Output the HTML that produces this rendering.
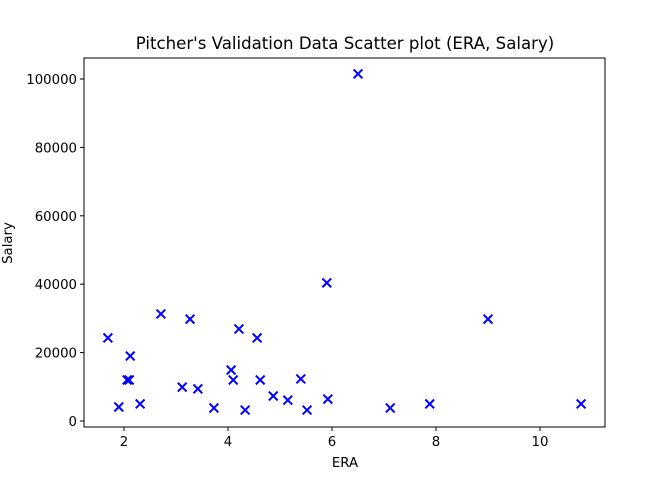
<!DOCTYPE html>
<html><head><meta charset="utf-8"><style>
body{margin:0;background:#fff;}
svg{display:block;font-family:"DejaVu Sans","Liberation Sans",sans-serif;}
</style></head><body>
<svg id="chart" width="672" height="480">
<rect x="84" y="58" width="521" height="369" fill="#fff" stroke="#000" stroke-width="1"/>
<text x="345" y="49" text-anchor="middle" font-size="16.6">Pitcher's Validation Data Scatter plot (ERA, Salary)</text>
<text x="345" y="467" text-anchor="middle" font-size="13.3">ERA</text>
<text x="12" y="243" text-anchor="middle" font-size="13.3" transform="rotate(-90 12 243)">Salary</text>
<g id="ticks"></g><g id="marks"></g>
</svg>
<script>
const eraValues=[1.69,1.90,2.06,2.10,2.12,2.31,2.71,3.12,3.27,3.42,3.73,4.06,4.10,4.21,4.33,4.56,4.62,4.87,5.15,5.40,5.52,5.90,5.92,6.50,7.12,7.88,9.00,10.79];
const salaryValues=[24300,4100,12000,12000,19000,5000,31300,9900,29800,9400,3800,14900,12000,26900,3200,24300,12000,7300,6100,12300,3200,40400,6400,101500,3800,5000,29800,5000];
const xTicks=[2,4,6,8,10];
const yTicks=[0,20000,40000,60000,80000,100000];
const xs=v=>20+v*52;
const ys=v=>421-v*0.00342;
const NS="http://www.w3.org/2000/svg";
const tg=document.getElementById('ticks'), mg=document.getElementById('marks');
function mk(t,a,p){const e=document.createElementNS(NS,t);for(const k in a)e.setAttribute(k,a[k]);p.appendChild(e);return e;}
xTicks.forEach(v=>{
 const l=mk('line',{x1:xs(v),x2:xs(v),y1:427,y2:431,stroke:'#000'},tg);
 
 
 const t=mk('text',{x:xs(v),y:446,'text-anchor':'middle','font-size':13.3},tg);t.textContent=v;
 
 
});
yTicks.forEach(v=>{
 const l=mk('line',{x1:80,x2:84,y1:ys(v),y2:ys(v),stroke:'#000'},tg);
 
 
 const t=mk('text',{x:77,y:ys(v)+5,'text-anchor':'end','font-size':13.3},tg);t.textContent=v;
 
 
});
eraValues.forEach((e,i)=>{
 const x=xs(e),y=ys(salaryValues[i]),s=4.4;
 const p=mk('path',{d:`M${x-s},${y-s}L${x+s},${y+s}M${x-s},${y+s}L${x+s},${y-s}`,stroke:'#0000ff','stroke-width':2,fill:'none'},mg);
 
 
});
</script>
</body></html>
